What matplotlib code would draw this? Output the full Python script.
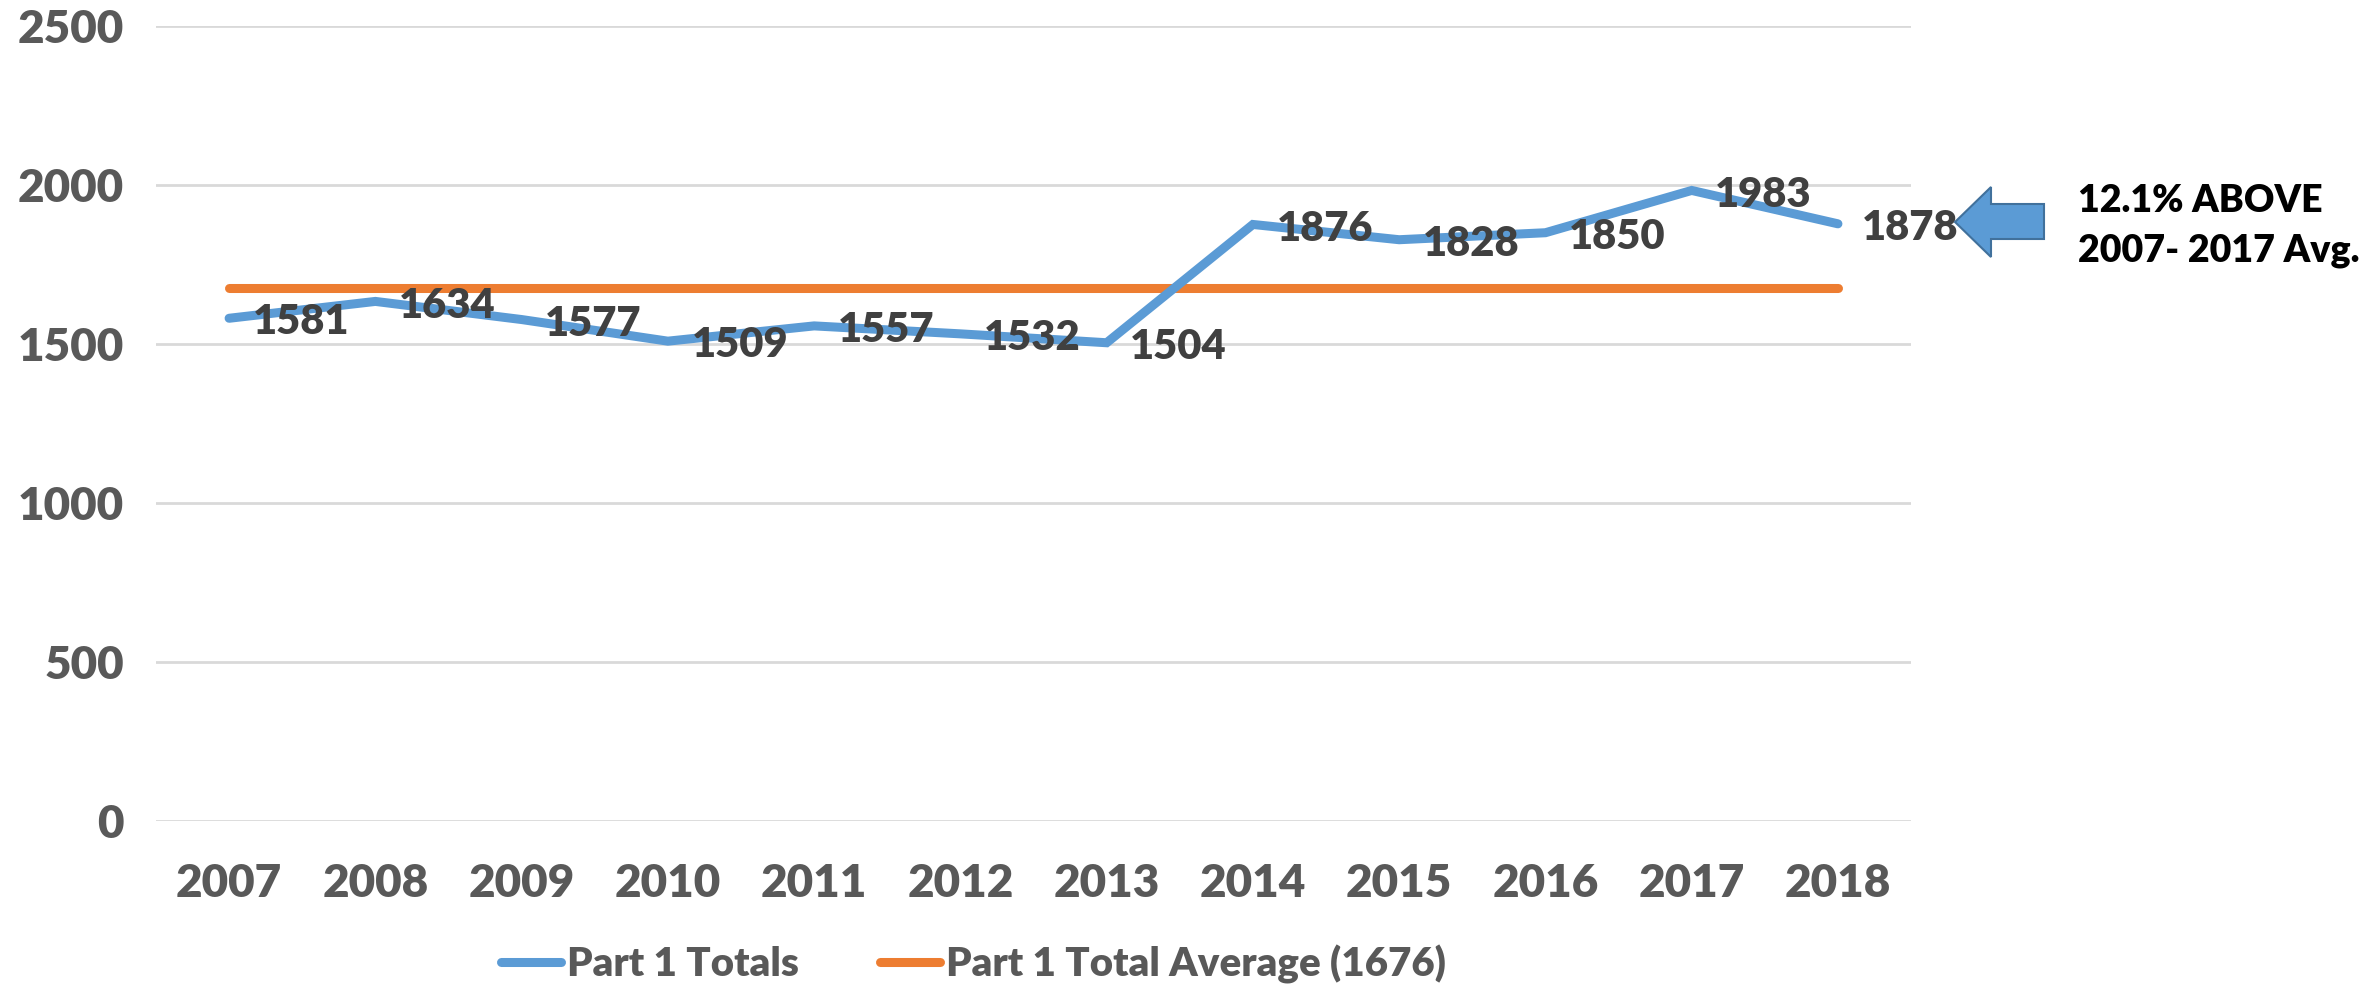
import matplotlib
matplotlib.use("Agg")
import matplotlib.pyplot as plt
from matplotlib.patches import Polygon

# data
years = ["2007", "2008", "2009", "2010", "2011", "2012",
         "2013", "2014", "2015", "2016", "2017", "2018"]
totals = [1581, 1634, 1577, 1509, 1557, 1532, 1504, 1876, 1828, 1850, 1983, 1878]
average = 1676
y_ticks = [0, 500, 1000, 1500, 2000, 2500]

BLUE = "#5B9BD5"
ORANGE = "#ED7D31"
GRID = "#D9D9D9"
TICK = "#595959"
LABEL = "#404040"

plt.rcParams["font.family"] = ["Lato", "DejaVu Sans"]

fig = plt.figure(figsize=(23.74, 9.9), dpi=100)
ax = fig.add_axes([0.0657, 0.1707, 0.805 - 0.0657, 0.9737 - 0.1707])

x = list(range(len(years)))
ax.plot(x, totals, color=BLUE, lw=6.5, solid_capstyle="round",
        solid_joinstyle="miter", label="Part 1 Totals", zorder=3)
ax.plot(x, [average] * len(x), color=ORANGE, lw=6.5, solid_capstyle="round",
        label="Part 1 Total Average (1676)", zorder=2)

for xi, v in zip(x, totals):
    ax.annotate(str(v), (xi, v), xytext=(17, -3), textcoords="offset points",
                ha="left", va="center", fontsize=30, fontweight="heavy",
                color=LABEL, zorder=4)

ax.set_xlim(-0.5, len(years) - 0.5)
ax.set_ylim(0, 2500)
ax.set_yticks(y_ticks)
ax.set_xticks(x)
ax.set_xticklabels(years)
ax.grid(axis="y", color=GRID, lw=2)
ax.set_axisbelow(True)
for s in ax.spines.values():
    s.set_visible(False)
ax.tick_params(axis="both", length=0, labelsize=33, labelcolor=TICK)
ax.tick_params(axis="y", pad=23)
ax.tick_params(axis="x", pad=30)
for t in ax.get_xticklabels() + ax.get_yticklabels():
    t.set_fontweight("heavy")

fig.legend(loc="center", bbox_to_anchor=(0.41, 0.026), ncol=2, frameon=False,
           handlelength=1.5, handletextpad=0.15,
           columnspacing=2.0, labelcolor=TICK,
           prop={"size": 29, "weight": "heavy"})

# callout arrow
W, H = 2374.0, 990.0
pts = [(1955, 222), (1991, 187), (1991, 204), (2044, 204),
       (2044, 239), (1991, 239), (1991, 257)]
arrow = Polygon([(px / W, 1 - py / H) for px, py in pts], closed=True,
                transform=fig.transFigure, facecolor=BLUE,
                edgecolor="#41719C", lw=1.5)
fig.patches.append(arrow)

fig.text(2078 / W, 1 - 212 / H, "12.1% ABOVE", fontsize=27,
         fontweight="heavy", color="black", va="baseline", ha="left")
fig.text(2078 / W, 1 - 261 / H, "2007- 2017 Avg.", fontsize=27,
         fontweight="heavy", color="black", va="baseline", ha="left")

fig.savefig("out.png", dpi=100)
